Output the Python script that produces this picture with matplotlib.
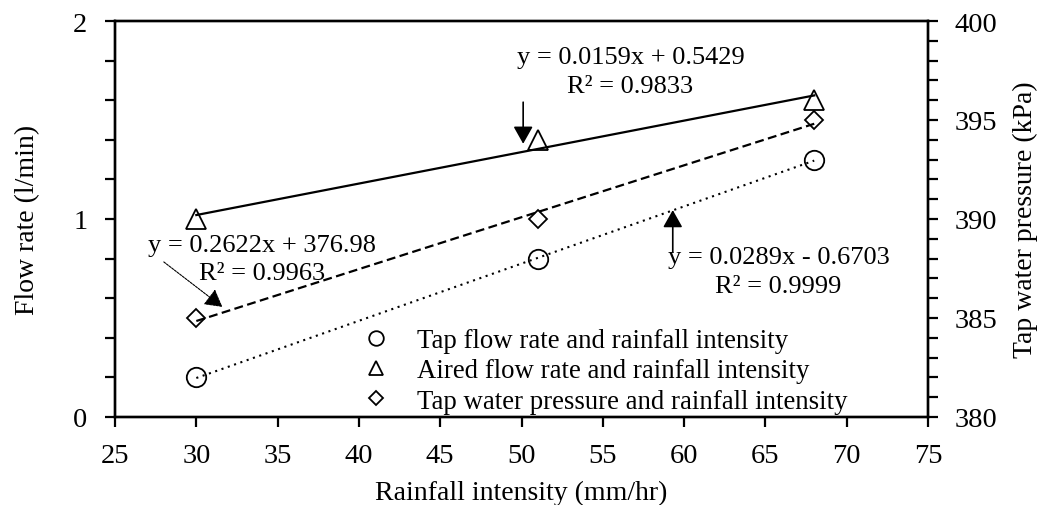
import numpy as np
import matplotlib
matplotlib.use("Agg")
import matplotlib.pyplot as plt

plt.rcParams["font.family"] = ["Liberation Serif", "DejaVu Serif"]

# Rainfall intensity (mm/hr)
rainfall = [30, 51, 68]

# Flow rates (l/min) and tap water pressure (kPa)
tap_flow = [0.2, 0.8, 1.3]
aired_flow = [1.0, 1.4, 1.6]
tap_pressure = [385, 390, 395]

# Linear fits (slope, intercept)
fit_tap = (0.0289, -0.6703)
fit_aired = (0.0159, 0.5429)
fit_pressure = (0.2622, 376.98)

legend_labels = [
    "Tap flow rate and rainfall intensity",
    "Aired flow rate and rainfall intensity",
    "Tap water pressure and rainfall intensity",
]

TICK_FS = 20.5
LABEL_FS = 20
NOTE_FS = 19

fig = plt.figure(figsize=(10.41, 5.06), dpi=100)
ax = fig.add_axes([0.1105, 0.174, 0.781, 0.7825])
ax2 = ax.twinx()

xfit = np.array([rainfall[0], rainfall[-1]])

ax.plot(xfit, fit_tap[0] * xfit + fit_tap[1], color="k", lw=1.5,
        linestyle=(0, (1, 2.2)))
ax.plot(xfit, fit_aired[0] * xfit + fit_aired[1], color="k", lw=1.6)
ax2.plot(xfit, fit_pressure[0] * xfit + fit_pressure[1], color="k", lw=1.6,
         linestyle=(0, (4, 2)))

h1, = ax.plot(rainfall, tap_flow, "o", ms=14, mfc="none", mec="k", mew=1.3)
h2, = ax.plot(rainfall, aired_flow, "^", ms=14, mfc="none", mec="k", mew=1.3)
h3, = ax2.plot(rainfall, tap_pressure, "D", ms=9.5, mfc="none", mec="k", mew=1.3)

ax.set_xlim(25, 75)
ax.set_ylim(0, 2)
ax2.set_ylim(380, 400)
ax.set_xticks(np.arange(25, 76, 5))
ax.set_yticks([0, 1, 2])
ax.set_yticks(np.arange(0, 2.01, 0.2), minor=True)
ax2.set_yticks(np.arange(380, 401, 5))
ax2.set_yticks(np.arange(380, 401, 1), minor=True)

for a in (ax, ax2):
    a.tick_params(which="both", direction="out", width=1.6, length=7,
                  labelsize=TICK_FS, pad=12)
    for s in a.spines.values():
        s.set_linewidth(1.7)
ax.tick_params(axis="y", which="both", right=False)
ax.tick_params(axis="y", pad=13)

ax.set_xlabel("Rainfall intensity (mm/hr)", fontsize=LABEL_FS, labelpad=8)
ax.set_ylabel("Flow rate (l/min)", fontsize=LABEL_FS, labelpad=24)
ax2.set_ylabel("Tap water pressure (kPa)", fontsize=LABEL_FS, rotation=90,
               labelpad=11)

arrow_bold = dict(arrowstyle="-|>,head_length=0.48,head_width=0.27",
                  color="k", lw=1.2, mutation_scale=22, shrinkA=0, shrinkB=0)
arrow_thin = dict(arrowstyle="-|>,head_length=0.48,head_width=0.27",
                  color="k", lw=0.8, mutation_scale=22, shrinkA=0, shrinkB=0,
                  linestyle=(0, (2, 1)))

# Aired flow fit
ax.text(56.7, 1.745, "y = 0.0159x + 0.5429\nR² = 0.9833", fontsize=NOTE_FS,
        ha="center", va="center", linespacing=1.36)
ax.annotate("", xy=(50.1, 1.38), xytext=(50.1, 1.59), arrowprops=arrow_bold)

# Tap flow fit
ax.text(65.8, 0.735, "y = 0.0289x - 0.6703\nR² = 0.9999", fontsize=NOTE_FS,
        ha="center", va="center", linespacing=1.36)
ax.annotate("", xy=(59.3, 1.045), xytext=(59.3, 0.833), arrowprops=arrow_bold)

# Tap pressure fit
ax.text(34.05, 0.80, "y = 0.2622x + 376.98\nR² = 0.9963", fontsize=NOTE_FS,
        ha="center", va="center", linespacing=1.36)
ax.annotate("", xy=(31.6, 0.556), xytext=(28.0, 0.783), arrowprops=arrow_thin)

ax.legend([h1, h2, h3], legend_labels, fontsize=19.3, frameon=False,
          loc="upper left", bbox_to_anchor=(0.275, 0.252), handlelength=2,
          handletextpad=0.53, labelspacing=0.2, borderaxespad=0,
          markerscale=0.75)

fig.savefig("out.png", dpi=100)
